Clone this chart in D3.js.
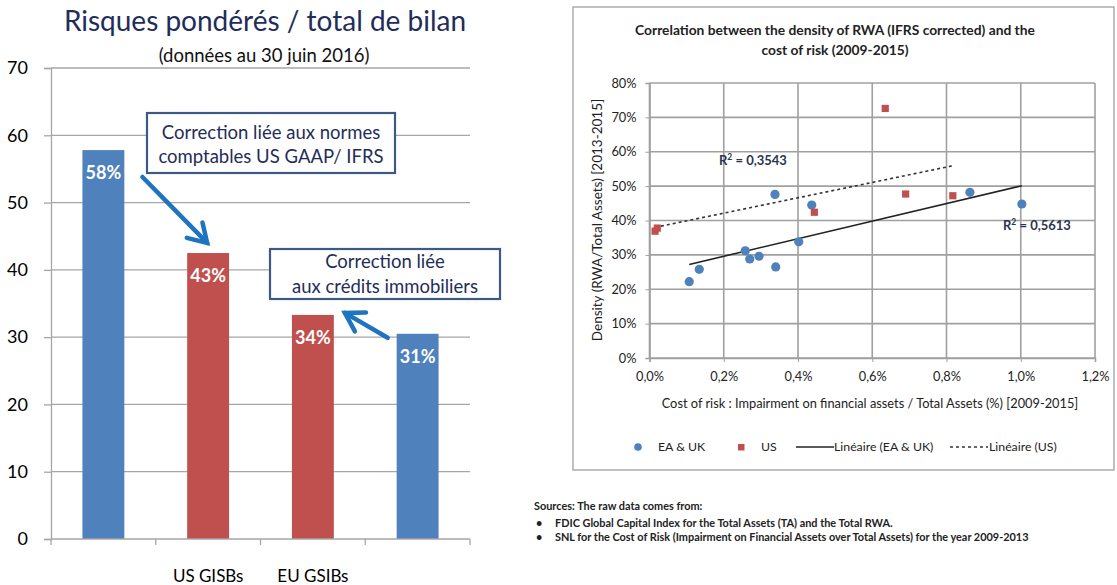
<!DOCTYPE html>
<html>
<head>
<meta charset="utf-8">
<script src="https://cdn.jsdelivr.net/npm/d3@7"></script>
<style>
  body { margin: 0; background: #fff; }
  svg { display: block; font-family: Lato, "Open Sans", sans-serif; }
</style>
</head>
<body>
<svg width="1117" height="585"></svg>
<script>
// ---- left chart data ----
var barLabels = ["", "US GISBs", "EU GSIBs", ""];
var barValues = [57.8, 42.5, 33.3, 30.5];
var barText = ["58%", "43%", "34%", "31%"];
var barColors = ["#4f81bd", "#c0504d", "#c0504d", "#4f81bd"];
var leftTicks = [0, 10, 20, 30, 40, 50, 60, 70];

// ---- right chart data (cost of risk %, density %) ----
var euCost = [0.107, 0.134, 0.258, 0.270, 0.295, 0.340, 0.338, 0.402, 0.437, 0.863, 1.003];
var euDensity = [22.2, 25.8, 31.2, 28.8, 29.6, 26.5, 47.6, 33.8, 44.5, 48.2, 44.8];
var usCost = [0.015, 0.021, 0.444, 0.635, 0.690, 0.817];
var usDensity = [36.9, 37.8, 42.4, 72.6, 47.7, 47.2];
var xTicks = [0, 0.2, 0.4, 0.6, 0.8, 1.0, 1.2];
var yTicks = [0, 10, 20, 30, 40, 50, 60, 70, 80];
var r2Labels = ["0,3543", "0,5613"];

var svg = d3.select("svg");
var navy = "#1f2d5a";

// ================= LEFT: bar chart =================
var y = d3.scaleLinear().domain([0, 70]).range([539, 68]);
var x = d3.scaleBand().domain(d3.range(barValues.length)).range([51, 470])
    .paddingInner(0.6).paddingOuter(0.3);

var left = svg.append("g");

left.append("text").attr("x", 265).attr("y", 31).attr("text-anchor", "middle")
    .attr("fill", navy).style("font-size", "28px")
    .text("Risques pondérés / total de bilan");
left.append("text").attr("x", 264).attr("y", 62).attr("text-anchor", "middle")
    .attr("fill", "#111").style("font-size", "18.5px")
    .text("(données au 30 juin 2016)");

// gridlines
left.append("g").selectAll("line").data(leftTicks.slice(1)).enter().append("line")
    .attr("x1", 51).attr("x2", 470)
    .attr("y1", function(d) { return y(d); }).attr("y2", function(d) { return y(d); })
    .attr("stroke", "#a6a6a6").attr("stroke-width", 1.3);

// y axis
var yAxis = left.append("g").attr("transform", "translate(51,0)")
    .call(d3.axisLeft(y).tickValues(leftTicks).tickSize(7).tickPadding(16));
yAxis.select(".domain").attr("stroke", "#a6a6a6").attr("stroke-width", 1.3);
yAxis.selectAll(".tick line").attr("stroke", "#a6a6a6").attr("stroke-width", 1.3);
yAxis.selectAll("text").style("font-size", "18px").attr("fill", "#000")
    .style("font-family", "Lato, sans-serif");

// bars
left.append("g").selectAll("rect").data(barValues).enter().append("rect")
    .attr("x", function(d, i) { return x(i); })
    .attr("y", function(d) { return y(d); })
    .attr("width", x.bandwidth())
    .attr("height", function(d) { return y(0) - y(d); })
    .attr("fill", function(d, i) { return barColors[i]; });

left.append("g").selectAll("text").data(barValues).enter().append("text")
    .attr("x", function(d, i) { return x(i) + x.bandwidth() / 2; })
    .attr("y", function(d) { return y(d) + 29; })
    .attr("text-anchor", "middle").attr("fill", "#fff")
    .style("font-size", "18px").style("font-weight", "bold")
    .text(function(d, i) { return barText[i]; });

// x axis: baseline and category boundary ticks
left.append("line").attr("x1", 51).attr("x2", 470).attr("y1", y(0)).attr("y2", y(0))
    .attr("stroke", "#a6a6a6").attr("stroke-width", 1.3);
left.append("g").selectAll("line").data(d3.range(barValues.length + 1)).enter().append("line")
    .attr("x1", function(i) { return 51 + i * x.step(); })
    .attr("x2", function(i) { return 51 + i * x.step(); })
    .attr("y1", y(0)).attr("y2", y(0) + 6)
    .attr("stroke", "#a6a6a6").attr("stroke-width", 1.3);
left.append("g").selectAll("text").data(barLabels).enter().append("text")
    .attr("x", function(d, i) { return x(i) + x.bandwidth() / 2; })
    .attr("y", 582).attr("text-anchor", "middle")
    .style("font-size", "17px").attr("fill", "#000")
    .text(function(d) { return d; });

// callouts
function callout(cx, top, w, h, first, gap, lines) {
  var g = left.append("g");
  g.append("rect").attr("x", cx - w / 2).attr("y", top).attr("width", w).attr("height", h)
      .attr("fill", "#fff").attr("stroke", "#3c5a85").attr("stroke-width", 2.2);
  lines.forEach(function(t, i) {
    g.append("text").attr("x", cx).attr("y", top + first + i * gap)
        .attr("text-anchor", "middle").attr("fill", navy).style("font-size", "18.5px").text(t);
  });
}
callout(271, 113, 248, 60, 26, 24, ["Correction liée aux normes", "comptables US GAAP/ IFRS"]);
callout(385, 249, 230, 50, 19, 25, ["Correction liée", "aux crédits immobiliers"]);

function arrow(x1, y1, x2, y2) {
  var a = Math.atan2(y2 - y1, x2 - x1), L = 21, s = 0.55;
  var g = left.append("g").attr("stroke", "#1f74c0").attr("stroke-width", 4.5)
      .attr("fill", "none").attr("stroke-linecap", "round").attr("stroke-linejoin", "miter");
  g.append("line").attr("x1", x1).attr("y1", y1).attr("x2", x2).attr("y2", y2);
  g.append("path").attr("d", d3.line()([
    [x2 - L * Math.cos(a - s), y2 - L * Math.sin(a - s)],
    [x2, y2],
    [x2 - L * Math.cos(a + s), y2 - L * Math.sin(a + s)]
  ]));
}
arrow(x(0) + 60, y(53.8), x(1) + 20, y(44.0));
arrow(x(3) - 9, y(29.9), x(2) + 53, y(33.6));

// ================= RIGHT: scatter =================
var right = svg.append("g");
right.append("rect").attr("x", 573).attr("y", 7).attr("width", 541).attr("height", 463)
    .attr("fill", "#fff").attr("stroke", "#a0a0a0").attr("stroke-width", 1.3);

right.append("text").attr("x", 835).attr("y", 35).attr("text-anchor", "middle")
    .style("font-size", "13.8px").style("font-weight", "bold").attr("fill", "#222")
    .text("Correlation between the density of RWA (IFRS corrected) and the");
right.append("text").attr("x", 835).attr("y", 55).attr("text-anchor", "middle")
    .style("font-size", "13.8px").style("font-weight", "bold").attr("fill", "#222")
    .text("cost of risk (2009-2015)");

var sx = d3.scaleLinear().domain([0, 1.2]).range([649.5, 1095]);
var sy = d3.scaleLinear().domain([0, 80]).range([358, 83]);

var grid = right.append("g").attr("stroke", "#a0a0a0").attr("stroke-width", 1.6);
grid.selectAll(".v").data(xTicks).enter().append("line")
    .attr("x1", function(d) { return sx(d); }).attr("x2", function(d) { return sx(d); })
    .attr("y1", sy(0)).attr("y2", sy(80));
grid.selectAll(".h").data(yTicks).enter().append("line")
    .attr("x1", sx(0)).attr("x2", sx(1.2))
    .attr("y1", function(d) { return sy(d); }).attr("y2", function(d) { return sy(d); });

var fmtX = function(d) { return d.toFixed(1).replace(".", ",") + "%"; };
var xa = right.append("g").attr("transform", "translate(0," + sy(0) + ")")
    .call(d3.axisBottom(sx).tickValues(xTicks).tickFormat(fmtX).tickSize(4).tickPadding(10));
var ya = right.append("g").attr("transform", "translate(" + sx(0) + ",0)")
    .call(d3.axisLeft(sy).tickValues(yTicks).tickFormat(function(d) { return d + "%"; })
      .tickSize(4).tickPadding(9));
[xa, ya].forEach(function(a) {
  a.select(".domain").attr("stroke", "#a0a0a0").attr("stroke-width", 1.6);
  a.selectAll(".tick line").attr("stroke", "#a0a0a0");
  a.selectAll("text").style("font-size", "12.8px").style("font-family", "Lato, sans-serif")
      .attr("fill", "#222");
});

right.append("text").attr("x", 870).attr("y", 408).attr("text-anchor", "middle")
    .style("font-size", "12.8px").attr("fill", "#222")
    .text("Cost of risk : Impairment on financial assets / Total Assets (%) [2009-2015]");
right.append("text").attr("transform", "translate(602,220) rotate(-90)")
    .attr("text-anchor", "middle").style("font-size", "13.5px").attr("fill", "#222")
    .text("Density (RWA/Total Assets) [2013-2015]");

// least-squares trend lines over each series' range
function trend(xs, ys) {
  var mx = d3.mean(xs), my = d3.mean(ys);
  var b = d3.sum(xs, function(v, i) { return (v - mx) * (ys[i] - my); }) /
          d3.sum(xs, function(v) { return (v - mx) * (v - mx); });
  var a = my - b * mx;
  var ext = d3.extent(xs);
  return ext.map(function(v) { return [sx(v), sy(a + b * v)]; });
}
right.append("path").attr("d", d3.line()(trend(usCost, usDensity)))
    .attr("stroke", "#333").attr("stroke-width", 1.6).attr("stroke-dasharray", "3,3")
    .attr("fill", "none");
right.append("path").attr("d", d3.line()(trend(euCost, euDensity)))
    .attr("stroke", "#222").attr("stroke-width", 1.6).attr("fill", "none");

right.append("g").selectAll("circle").data(euCost).enter().append("circle")
    .attr("cx", function(d) { return sx(d); })
    .attr("cy", function(d, i) { return sy(euDensity[i]); })
    .attr("r", 4.6).attr("fill", "#4f81bd");
right.append("g").selectAll("rect").data(usCost).enter().append("rect")
    .attr("x", function(d) { return sx(d) - 3.6; })
    .attr("y", function(d, i) { return sy(usDensity[i]) - 3.6; })
    .attr("width", 7.2).attr("height", 7.2).attr("fill", "#c0504d");

function r2(xp, yp, v) {
  var t = right.append("text").attr("x", xp).attr("y", yp)
      .style("font-size", "13px").style("font-weight", "bold").attr("fill", "#2a3550");
  t.append("tspan").text("R");
  t.append("tspan").attr("dy", -5).style("font-size", "8.5px").text("2");
  t.append("tspan").attr("dy", 5).text(" = " + v);
}
r2(719, 165, r2Labels[0]);
r2(1003, 230, r2Labels[1]);

// legend
var lg = right.append("g").style("font-size", "12.3px").attr("fill", "#222");
lg.append("circle").attr("cx", 638).attr("cy", 447).attr("r", 3.8).attr("fill", "#4f81bd");
lg.append("text").attr("x", 658).attr("y", 451).text("EA & UK");
lg.append("rect").attr("x", 738).attr("y", 444).attr("width", 6.5).attr("height", 6.5).attr("fill", "#c0504d");
lg.append("text").attr("x", 761).attr("y", 451).text("US");
lg.append("line").attr("x1", 796).attr("x2", 834).attr("y1", 447).attr("y2", 447)
    .attr("stroke", "#222").attr("stroke-width", 1.6);
lg.append("text").attr("x", 834).attr("y", 451).text("Linéaire (EA & UK)");
lg.append("line").attr("x1", 950).attr("x2", 988).attr("y1", 447).attr("y2", 447)
    .attr("stroke", "#333").attr("stroke-width", 1.6).attr("stroke-dasharray", "3,3");
lg.append("text").attr("x", 989).attr("y", 451).text("Linéaire (US)");

// sources
var src = svg.append("g").style("font-size", "10.9px").style("font-weight", "bold").attr("fill", "#222");
src.append("text").attr("x", 534).attr("y", 510).text("Sources: The raw data comes from:");
src.append("text").attr("x", 536).attr("y", 527).text("•");
src.append("text").attr("x", 555).attr("y", 527)
    .text("FDIC Global Capital Index for the Total Assets (TA) and the Total RWA.");
src.append("text").attr("x", 536).attr("y", 541).text("•");
src.append("text").attr("x", 555).attr("y", 541)
    .text("SNL for the Cost of Risk (Impairment on Financial Assets over Total Assets) for the year 2009-2013");
</script>
</body>
</html>
